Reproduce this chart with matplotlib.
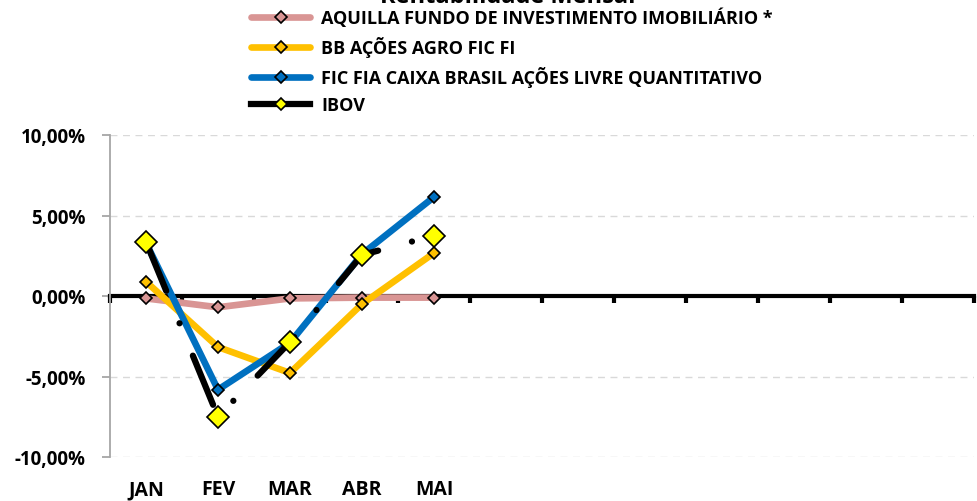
import numpy as np
import matplotlib
matplotlib.use('Agg')
import matplotlib.pyplot as plt
from matplotlib.ticker import FuncFormatter
import matplotlib.transforms as mtransforms

plt.rcParams['font.family'] = ['Open Sans', 'DejaVu Sans']
plt.rcParams['font.weight'] = 'bold'

months = ['JAN', 'FEV', 'MAR', 'ABR', 'MAI', '', '', '', '', '', '', '']
aquilla = [-0.15, -0.70, -0.15, -0.10, -0.10]
bb_agro = [0.89, -3.17, -4.78, -0.50, 2.67]
caixa = [3.30, -5.82, -2.90, 2.60, 6.15]
ibov = [3.37, -7.50, -2.86, 2.55, 3.75]

names = ['AQUILLA FUNDO DE INVESTIMENTO IMOBILIÁRIO *', 'BB AÇÕES AGRO FIC FI',
         'FIC FIA CAIXA BRASIL AÇÕES LIVRE QUANTITATIVO', 'IBOV']
colors = ['#d99594', '#ffc000', '#0070c0', '#000000']

fig = plt.figure(figsize=(9.77, 5.02), dpi=100)
ax = fig.add_axes([110 / 977, 1 - 458 / 502, 864 / 977, 322 / 502])

x = np.arange(len(aquilla))
for vals, name, col in zip([aquilla, bb_agro, caixa], names[:3], colors[:3]):
    ax.plot(x, vals, color=col, lw=4.8, marker='D', ms=6.2, mfc=col, mec='black',
            mew=1.2, label=name, solid_capstyle='round', solid_joinstyle='round')
ax.plot(x, ibov, color='black', lw=4.5, linestyle=(0, (8.5, 5.6, 0.01, 5.6)),
        dash_capstyle='round', marker='D', ms=11, mfc='#ffff00', mec='black',
        mew=1.2, label=names[3])

ax.set_xlim(-0.5, len(months) - 0.5)
ax.set_ylim(-10, 10)
ax.set_yticks([-10, -5, 0, 5, 10])
ax.yaxis.set_major_formatter(FuncFormatter(lambda v, p: ('%.2f%%' % v).replace('.', ',')))
ax.yaxis.grid(True, linestyle=(0, (5, 4)), color='#d9d9d9', lw=1)
ax.set_axisbelow(True)

ax.spines['top'].set_visible(False)
ax.spines['right'].set_visible(False)
ax.spines['left'].set_color('#a6a6a6')
ax.spines['left'].set_linewidth(1.3)
ax.spines['bottom'].set_position(('data', 0))
ax.spines['bottom'].set_linewidth(3)
ax.spines['bottom'].set_zorder(1.5)

ax.tick_params(axis='y', direction='out', length=6, width=1.3, color='#a6a6a6',
               labelsize=13.5, pad=11.5)
for lab in ax.get_yticklabels():
    lab.set_fontweight('bold')
ax.set_xticks(np.arange(-0.5, len(months), 1))
ax.tick_params(axis='x', direction='out', length=5, width=3, color='black',
               labelbottom=False)

trans = mtransforms.blended_transform_factory(ax.transData, ax.transAxes)
for i, m in enumerate(months):
    ax.text(i, -37 / 322, m, transform=trans, ha='center', va='baseline',
            fontsize=14, fontweight='bold')

fig.text(0.52, 1 - 3 / 502, 'Rentabilidade Mensal', ha='center', va='baseline',
         fontsize=17, fontweight='bold')

leg = fig.legend(loc='upper left', bbox_to_anchor=(239 / 977, 1 + 3 / 502), frameon=False,
                 handlelength=3.3, labelspacing=0.5, borderaxespad=0.25,
                 handletextpad=0.6, prop={'weight': 'bold', 'size': 13})
ib = leg.legend_handles[3]
ib.set_linestyle('-')
ib.set_markersize(6.2)

plt.savefig('out.png', dpi=100)
plt.close()
